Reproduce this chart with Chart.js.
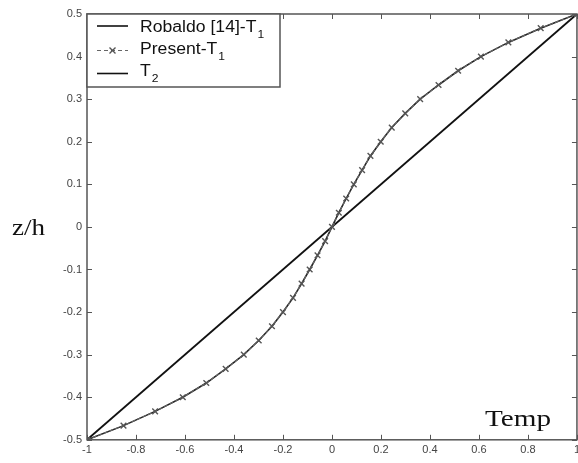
<!DOCTYPE html>
<html>
<head>
<meta charset="utf-8">
<script src="https://cdn.jsdelivr.net/npm/chart.js@4.4.0/dist/chart.umd.min.js"></script>
<style>
  html, body { margin: 0; padding: 0; background: #fff; overflow: hidden; }
  #wrap { width: 578px; height: 463px; overflow: hidden; }
</style>
</head>
<body>
<div id="wrap"><canvas id="tempChart" width="584" height="463"></canvas></div>
<script>
// z/h stations of the marked curve
const zStations = [-0.5, -0.4667, -0.4333, -0.4, -0.3667, -0.3333, -0.3, -0.2667, -0.2333, -0.2, -0.1667,
  -0.1333, -0.1, -0.0667, -0.0333, 0, 0.0333, 0.0667, 0.1, 0.1333, 0.1667, 0.2, 0.2333, 0.2667, 0.3,
  0.3333, 0.3667, 0.4, 0.4333, 0.4667, 0.5];
// temperature T1, present model
const presentT1 = [-1, -0.851, -0.722, -0.609, -0.513, -0.434, -0.36, -0.299, -0.245, -0.2, -0.159,
  -0.124, -0.091, -0.059, -0.028, 0, 0.028, 0.058, 0.089, 0.123, 0.157, 0.199, 0.244, 0.299, 0.36,
  0.435, 0.515, 0.608, 0.72, 0.852, 1];
// temperature T1, Robaldo [14]
const robaldoT1 = [-1, -0.851, -0.722, -0.609, -0.513, -0.434, -0.36, -0.299, -0.245, -0.2, -0.159,
  -0.124, -0.091, -0.059, -0.028, 0, 0.028, 0.058, 0.089, 0.123, 0.157, 0.199, 0.244, 0.299, 0.36,
  0.435, 0.515, 0.608, 0.72, 0.852, 1];
// linear T2
const t2Temp = [-1, 1];
const t2Z = [-0.5, 0.5];

const legendMain = ["Robaldo [14]-T", "Present-T", "T"];
const legendSub = ["1", "1", "2"];
const xTitle = "Temp";
const yTitle = "z/h";

function pairs(xs, ys) {
  return xs.map(function (x, i) { return { x: x, y: ys[i] }; });
}

function fmt(v) {
  return String(Number(v.toFixed(1)));
}

const frameColor = "#555";

const decorPlugin = {
  id: "decor",
  afterDatasetsDraw: function (chart) {
    const ctx = chart.ctx;
    const a = chart.chartArea;
    const xs = chart.scales.x;
    const ys = chart.scales.y;
    ctx.save();
    // frame
    ctx.strokeStyle = frameColor;
    ctx.lineWidth = 1.5;
    ctx.strokeRect(a.left, a.top, a.right - a.left, a.bottom - a.top);
    // inward ticks
    ctx.lineWidth = 1;
    ctx.beginPath();
    xs.ticks.forEach(function (t) {
      const px = Math.round(xs.getPixelForValue(t.value)) + 0.5;
      ctx.moveTo(px, a.bottom); ctx.lineTo(px, a.bottom - 5);
      ctx.moveTo(px, a.top); ctx.lineTo(px, a.top + 5);
    });
    ys.ticks.forEach(function (t) {
      const py = Math.round(ys.getPixelForValue(t.value)) + 0.5;
      ctx.moveTo(a.left, py); ctx.lineTo(a.left + 5, py);
      ctx.moveTo(a.right, py); ctx.lineTo(a.right - 5, py);
    });
    ctx.stroke();

    // legend box
    const bx = a.left, by = a.top, bw = 193, bh = 73;
    ctx.fillStyle = "#fff";
    ctx.fillRect(bx, by, bw, bh);
    ctx.strokeStyle = frameColor;
    ctx.lineWidth = 1.5;
    ctx.strokeRect(bx, by, bw, bh);

    const lineY = [26, 50.5, 73.5];
    const baseY = [31.7, 53.5, 76.3];
    for (let i = 0; i < legendMain.length; i++) {
      ctx.save();
      if (i === 1) {
        ctx.strokeStyle = "#666";
        ctx.lineWidth = 1.2;
        ctx.setLineDash([4, 3]);
      } else {
        ctx.strokeStyle = "#111";
        ctx.lineWidth = 1.6;
      }
      ctx.beginPath();
      ctx.moveTo(bx + 10, lineY[i]);
      ctx.lineTo(bx + 41, lineY[i]);
      ctx.stroke();
      if (i === 1) {
        ctx.setLineDash([]);
        const cx = bx + 25.5, cy = lineY[i];
        ctx.strokeStyle = "#555";
        ctx.lineWidth = 1.4;
        ctx.beginPath();
        ctx.moveTo(cx - 3, cy - 3); ctx.lineTo(cx + 3, cy + 3);
        ctx.moveTo(cx - 3, cy + 3); ctx.lineTo(cx + 3, cy - 3);
        ctx.stroke();
      }
      ctx.restore();

      ctx.save();
      ctx.translate(bx + 53, baseY[i]);
      ctx.scale(1.1, 1);
      ctx.fillStyle = "#111";
      ctx.textBaseline = "alphabetic";
      ctx.font = '16px "Liberation Sans", Arial, sans-serif';
      ctx.fillText(legendMain[i], 0, 0);
      const w = ctx.measureText(legendMain[i]).width;
      ctx.font = '11px "Liberation Sans", Arial, sans-serif';
      ctx.fillText(legendSub[i], w + 1, 6);
      ctx.restore();
    }

    // axis titles in serif
    ctx.fillStyle = "#111";
    ctx.textBaseline = "alphabetic";
    ctx.font = '24px "Liberation Serif", "Times New Roman", serif';
    let w = ctx.measureText(yTitle).width;
    ctx.save();
    ctx.translate(12, 235);
    ctx.scale(33 / w, 1);
    ctx.fillText(yTitle, 0, 0);
    ctx.restore();

    ctx.font = '23px "Liberation Serif", "Times New Roman", serif';
    w = ctx.measureText(xTitle).width;
    ctx.save();
    ctx.translate(485, 426);
    ctx.scale(66 / w, 1);
    ctx.fillText(xTitle, 0, 0);
    ctx.restore();

    ctx.restore();
  }
};

const tickFont = { family: '"Liberation Sans", Arial, sans-serif', size: 11 };

new Chart(document.getElementById("tempChart"), {
  type: "scatter",
  data: {
    datasets: [
      {
        label: "Present-T1",
        data: pairs(presentT1, zStations),
        showLine: true,
        borderColor: "#666",
        borderWidth: 1.2,
        borderDash: [4, 2],
        pointStyle: "crossRot",
        pointRadius: 4,
        pointBorderColor: "#555",
        pointBorderWidth: 1.4,
        pointBackgroundColor: "#555",
      },
      {
        label: "Robaldo [14]-T1",
        data: pairs(robaldoT1, zStations),
        showLine: true,
        borderColor: "#222",
        borderWidth: 1.6,
        pointRadius: 0,
      },
      {
        label: "T2",
        data: pairs(t2Temp, t2Z),
        showLine: true,
        borderColor: "#111",
        borderWidth: 1.8,
        pointRadius: 0,
      },
    ],
  },
  options: {
    responsive: false,
    animation: false,
    layout: { padding: { top: 14, right: 0, bottom: 2, left: 0 } },
    scales: {
      x: {
        type: "linear",
        min: -1,
        max: 1,
        grid: { display: false, drawTicks: false },
        border: { display: false },
        ticks: {
          stepSize: 0.2,
          padding: 4,
          color: "#444",
          font: tickFont,
          maxRotation: 0,
          callback: function (value) { return fmt(value); },
        },
      },
      y: {
        type: "linear",
        min: -0.5,
        max: 0.5,
        grid: { display: false, drawTicks: false },
        border: { display: false },
        ticks: {
          stepSize: 0.1,
          padding: 5,
          color: "#444",
          font: tickFont,
          callback: function (value) { return fmt(value); },
        },
        afterFit: function (scale) {
          scale.width = 87;
        },
      },
    },
    plugins: {
      legend: { display: false },
      tooltip: { enabled: false },
    },
  },
  plugins: [decorPlugin],
});
</script>
</body>
</html>
